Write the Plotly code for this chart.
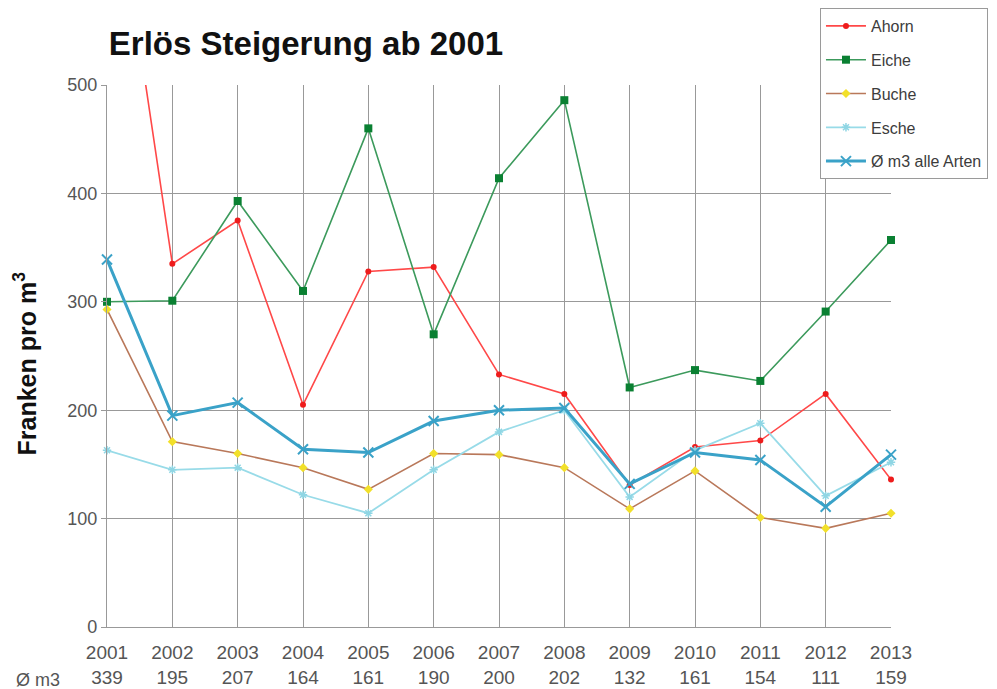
import plotly.graph_objects as go

years = [2001, 2002, 2003, 2004, 2005, 2006, 2007, 2008, 2009, 2010, 2011, 2012, 2013]
avg_m3_labels = ["339", "195", "207", "164", "161", "190", "200", "202", "132", "161", "154", "111", "159"]

ahorn = [740, 335, 375, 205, 328, 332, 233, 215, 131, 166, 172, 215, 136]
eiche = [300, 301, 393, 310, 460, 270, 414, 486, 221, 237, 227, 291, 357]
buche = [293, 171, 160, 147, 127, 160, 159, 147, 109, 144, 101, 91, 105]
esche = [163, 145, 147, 122, 105, 145, 180, 200, 120, 163, 188, 121, 152]
avg_all = [339, 195, 207, 164, 161, 190, 200, 202, 132, 161, 154, 111, 159]

tick_text = [f"{y}<br>{m}" for y, m in zip(years, avg_m3_labels)]

fig = go.Figure()

def add(name, vals, lc, lw, msym, mcolor, msize, mlinew=0, mlinec=None):
    fig.add_trace(go.Scatter(
        x=years, y=vals, name=name, mode="lines+markers",
        legendgroup=name,
        line=dict(color=lc, width=lw),
        marker=dict(symbol=msym, color=mcolor, size=msize,
                    line=dict(width=mlinew, color=mlinec if mlinec else mcolor)),
        cliponaxis=False,
    ))

add("Ahorn", ahorn, "#ff4848", 1.6, "circle", "#ee1c1c", 6)
add("Eiche", eiche, "#3c9a5c", 1.6, "square", "#0a8032", 8)
add("Buche", buche, "#b9785a", 1.6, "diamond", "#f2e02a", 7)
add("Esche", esche, "#98dbe8", 1.8, "asterisk-open", "#8fd6e4", 7, 1.5, "#8fd6e4")
add("Ø m3 alle Arten", avg_all, "#3aa2c8", 3, "x-thin-open", "#3aa2c8", 10, 2, "#4aaed2")

# page has an 8px body margin: the figure is sized to fit the 997x689 window
fig.update_layout(
    width=989, height=681,
    margin=dict(l=99, r=106, t=77, b=62, autoexpand=False),
    paper_bgcolor="white", plot_bgcolor="white",
    font=dict(family="Liberation Sans, Arial, sans-serif", color="#555555"),
    title=dict(text="<b>Erlös Steigerung ab 2001</b>", x=0.3013, xanchor="center",
               y=0.9486, yanchor="middle", xref="container", yref="container",
               font=dict(size=33, color="#111111", family="Liberation Sans, Arial, sans-serif")),
    showlegend=True,
    legend=dict(xref="container", yref="container", x=0.821, y=1.0,
                xanchor="left", yanchor="top",
                bgcolor="white", bordercolor="#9a9a9a", borderwidth=1,
                font=dict(size=16, color="#3c3c3c"),
                traceorder="grouped", tracegroupgap=10,
                itemwidth=40),
    xaxis=dict(range=[2001, 2013], tickmode="array", tickvals=years, ticktext=tick_text,
               showgrid=True, gridcolor="#999999", gridwidth=1.4,
               showline=True, linecolor="#999999", linewidth=1.4,
               tickfont=dict(size=19, color="#555555"), zeroline=False, ticks="",
               ticklabelstandoff=8, automargin=False),
    yaxis=dict(range=[0, 500], tickvals=[0, 100, 200, 300, 400, 500],
               showgrid=True, gridcolor="#999999", gridwidth=1.4,
               showline=True, linecolor="#999999", linewidth=1.4,
               ticks="outside", ticklen=5, tickcolor="#999999",
               tickfont=dict(size=18, color="#555555"), zeroline=False, automargin=False),
    annotations=[
        dict(text="<b>Franken pro m<sup>3</sup></b>", textangle=-90, xref="paper", yref="paper",
             x=-0.104, y=0.487, xanchor="center", yanchor="middle", showarrow=False,
             font=dict(size=25, color="#111111")),
        dict(text="Ø m3", xref="paper", yref="paper", x=-0.088, y=-0.098,
             xanchor="center", yanchor="middle", showarrow=False,
             font=dict(size=18, color="#555555")),
    ],
)

fig.write_html("out.html")
